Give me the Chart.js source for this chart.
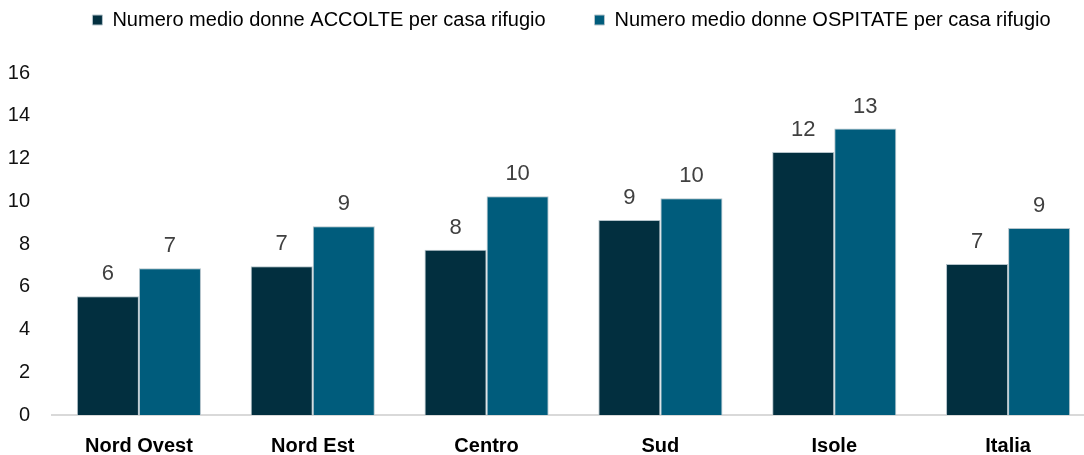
<!DOCTYPE html>
<html>
<head>
<meta charset="utf-8">
<script src="https://cdn.jsdelivr.net/npm/chart.js@4"></script>
<style>
    html, body { margin: 0; padding: 0; background: #fff; overflow: hidden; }
    #wrap { width: 1100px; height: 455px; position: relative; }
</style>
</head>
<body>
<div id="wrap"><canvas id="grafico"></canvas></div>
<script>
// dati
const aree = ["Nord Ovest", "Nord Est", "Centro", "Sud", "Isole", "Italia"];
const accolte = [5.55, 6.96, 7.73, 9.12, 12.3, 7.07];
const ospitate = [6.87, 8.83, 10.23, 10.14, 13.4, 8.75];
const yTicks = [0, 2, 4, 6, 8, 10, 12, 14, 16];

const fontBase = "'Liberation Sans', Arial, sans-serif";

// etichette sopra le barre
const etichettePlugin = {
    id: "etichette",
    afterDatasetsDraw(chart) {
        const ctx = chart.ctx;
        ctx.save();
        ctx.font = "22px " + fontBase;
        ctx.fillStyle = "#404040";
        ctx.textAlign = "center";
        ctx.textBaseline = "alphabetic";
        chart.data.datasets.forEach((ds, i) => {
            let meta = chart.getDatasetMeta(i);
            meta.data.forEach((bar, j) => {
                ctx.fillText(Math.round(ds.data[j]), bar.x, bar.y - 16);
            });
        });
        ctx.restore();
    }
};

// spazio sotto la legenda e piccolo spostamento a destra
const legendaPlugin = {
    id: "legendaSpazio",
    beforeInit(chart) {
        const fitOrig = chart.legend.fit;
        chart.legend.fit = function () {
            fitOrig.call(this);
            this.height += 33;
        };
    },
    afterLayout(chart) {
        chart.legend.left += 24;
        chart.legend.right += 24;
    }
};

const dati = {
    labels: aree,
    datasets: [{
        label: "Numero medio donne ACCOLTE per casa rifugio",
        data: accolte,
        backgroundColor: "#022f3f",
        borderColor: "#b5c4cb",
        borderWidth: 1
    }, {
        label: "Numero medio donne OSPITATE per casa rifugio",
        data: ospitate,
        backgroundColor: "#005c7c",
        borderColor: "#b5c4cb",
        borderWidth: 1
    }]
};

const config = {
    type: "bar",
    data: dati,
    options: {
        responsive: true,
        maintainAspectRatio: false,
        animation: false,
        categoryPercentage: 0.714,
        barPercentage: 1,
        layout: { padding: { top: 0, right: 5, left: 0, bottom: 0 } },
        plugins: {
            tooltip: { enabled: false },
            legend: {
                position: "top",
                labels: {
                    boxWidth: 10,
                    boxHeight: 10,
                    padding: 10,
                    color: "#000",
                    font: { family: fontBase, size: 20 },
                    generateLabels(chart) {
                        const items = Chart.defaults.plugins.legend.labels.generateLabels(chart);
                        items[0].text = items[0].text + "       ";
                        return items;
                    }
                }
            }
        },
        scales: {
            x: {
                grid: { display: false, drawTicks: false },
                border: { display: true, color: "#d9d9d9", width: 2 },
                ticks: {
                    color: "#000",
                    padding: 19,
                    font: { family: fontBase, size: 20, weight: "bold" }
                },
                afterFit(axis) {
                    axis.height = 40;
                }
            },
            y: {
                min: 0,
                max: 16,
                afterBuildTicks(axis) {
                    axis.ticks = yTicks.map(v => ({ value: v }));
                },
                grid: { display: false, drawTicks: false },
                border: { display: false },
                ticks: {
                    color: "#111",
                    padding: 22,
                    font: { family: fontBase, size: 20 }
                },
                afterFit(axis) {
                    axis.width = 52;
                }
            }
        }
    },
    plugins: [etichettePlugin, legendaPlugin]
};

var grafico = new Chart(document.querySelector("#grafico"), config);
</script>
</body>
</html>
